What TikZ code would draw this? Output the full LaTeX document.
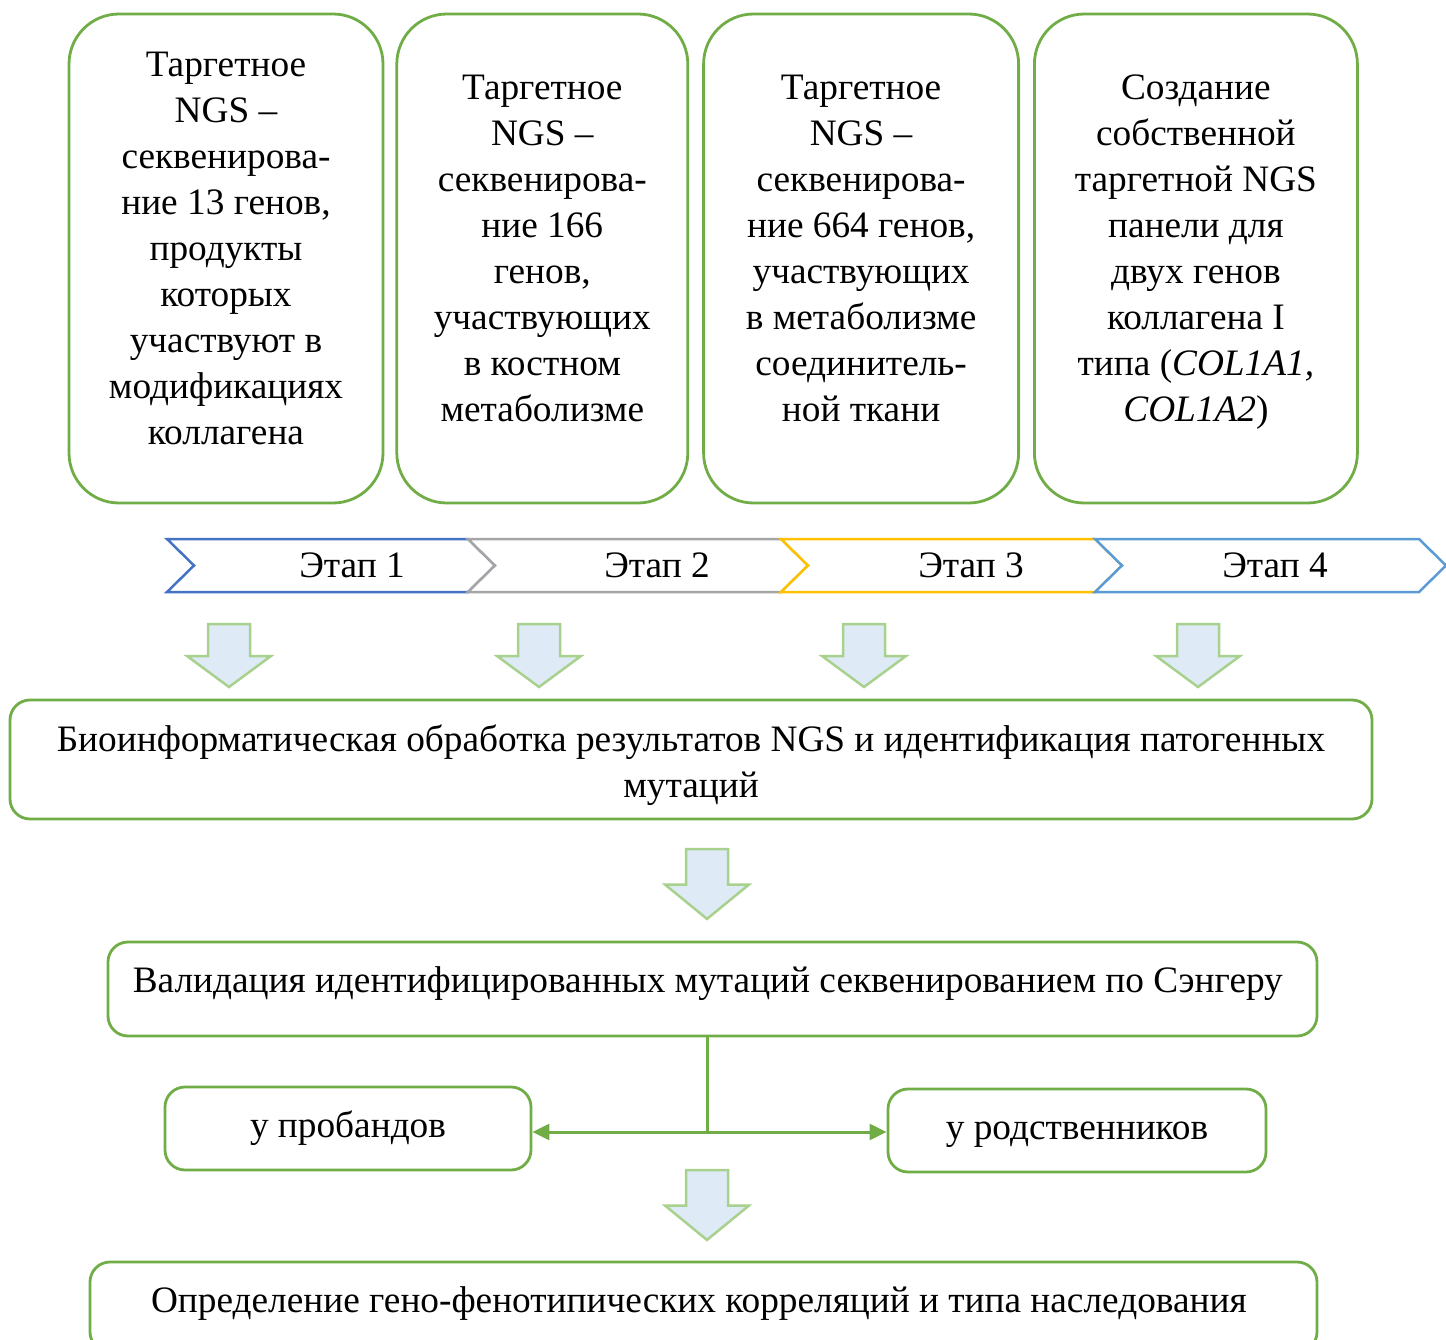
\documentclass[tikz,border=0pt]{standalone}
\usepackage{fontspec}
\setmainfont{Liberation Serif}
\usetikzlibrary{arrows.meta,positioning}
\definecolor{boxgreen}{HTML}{70AD47}
\definecolor{arrowgreen}{HTML}{A9D18E}
\definecolor{arrowblue}{HTML}{DEEBF7}
\definecolor{chevblue}{HTML}{4472C4}
\definecolor{chevgray}{HTML}{A5A5A5}
\definecolor{chevgold}{HTML}{FFC000}
\definecolor{chevsky}{HTML}{5B9BD5}

\begin{document}
\begin{tikzpicture}[
  x=1pt, y=-1pt,
  font=\fontsize{37.3}{46}\selectfont,
  >={Triangle[length=17pt,width=16pt]},
  stagecard/.style={
    draw=boxgreen,
    fill=white,
    rounded corners=50pt,
    line width=2.8pt,
    inner sep=0pt,
    minimum height=489pt,
    text depth=20pt,
    align=center
  },
  stepcard/.style={
    draw=boxgreen,
    fill=white,
    rounded corners=20pt,
    line width=2.8pt,
    inner sep=0pt,
    align=center
  },
  flow/.style={draw=boxgreen, line width=3pt},
  downarrow/.pic={
    \draw[draw=arrowgreen, fill=arrowblue, line width=2.5pt]
      (-21,0) -- (21,0) -- (21,32) -- (42,32) -- (0,63) -- (-42,32) -- (-21,32) -- cycle;
  }
]
  \clip (0,0) rectangle (1446,1340);

  % Top row: the four sequencing stages
  \node[stagecard, minimum width=314pt] (card1) at (226,258.5) {
    Таргетное\\ NGS –\\ секвенирова-\\ ние 13 генов,\\ продукты\\ которых\\ участвуют в\\ модификациях\\ коллагена
  };
  \node[stagecard, minimum width=291pt, right=11pt of card1] (card2) {
    Таргетное\\ NGS –\\ секвенирова-\\ ние 166\\ генов,\\ участвующих\\ в костном\\ метаболизме
  };
  \node[stagecard, minimum width=315pt, right=13pt of card2] (card3) {
    Таргетное\\ NGS –\\ секвенирова-\\ ние 664 генов,\\ участвующих\\ в метаболизме\\ соединитель-\\ ной ткани
  };
  \node[stagecard, minimum width=323pt, right=13pt of card3] (card4) {
    Создание\\ собственной\\ таргетной NGS\\ панели для\\ двух генов\\ коллагена I\\ типа (\textit{COL1A1,}\\ \textit{COL1A2})
  };

  % Stage chevrons
  \foreach \l/\r/\c/\tx/\i in {167/468/chevblue/352/1, 468/781/chevgray/657/2, 781/1095/chevgold/971/3, 1095/1419/chevsky/1275/4} {
    \draw[draw=\c, line width=2.5pt, fill=white]
      (\l,539) -- (\r,539) -- (\r+27,565.5) -- (\r,592) -- (\l,592) -- (\l+27,565.5) -- cycle;
    \node (stage\i) at (\tx,565.5) {Этап \i};
  }

  % Block arrows
  \foreach \x in {229,539,864,1198}
    \pic at (\x,624) {downarrow};
  \pic[yscale=1.11] at (707,849) {downarrow};
  \pic[yscale=1.11] at (707,1170) {downarrow};

  % Analysis steps
  \node[stepcard, minimum width=1362pt, minimum height=119pt, text height=85pt] (bioinfo) at (691,759.5) {
    Биоинформатическая обработка результатов NGS и идентификация патогенных\\ мутаций
  };
  \node[stepcard, minimum width=1209pt, minimum height=94pt, text depth=18pt] (valid) at (712.5,989) {
    Валидация идентифицированных мутаций секвенированием по Сэнгеру
  };
  \node[stepcard, minimum width=366pt, minimum height=83pt] (proband) at (348,1128.5) {у пробандов};
  \node[stepcard, minimum width=378pt, minimum height=83pt, text height=27pt] (relative) at (1077,1130.5) {у родственников};
  \node[stepcard, minimum width=1227pt, minimum height=90pt, text depth=14pt] (final) at (703.5,1307) {
    Определение гено-фенотипических корреляций и типа наследования
  };

  % Split to probands and relatives
  \coordinate (split) at (707,1132);
  \draw[flow] (valid.south -| split) -- (split);
  \draw[flow, ->] (split) -- (proband.east |- split);
  \draw[flow, ->] (split) -- (relative.west |- split);

\end{tikzpicture}
\end{document}
